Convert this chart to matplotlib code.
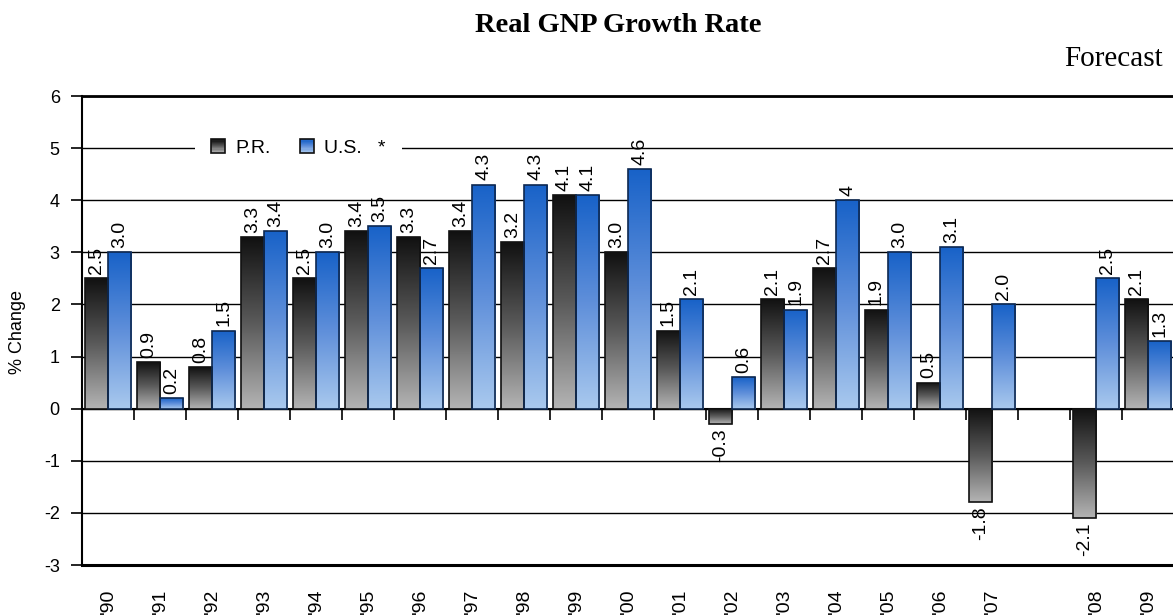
import numpy as np
import matplotlib
matplotlib.use("Agg")
import matplotlib.pyplot as plt
from matplotlib.colors import LinearSegmentedColormap
from matplotlib.legend_handler import HandlerBase
from matplotlib.patches import Patch, Rectangle
from matplotlib.transforms import blended_transform_factory

# --- data -----------------------------------------------------------------
years = ["'90", "'91", "'92", "'93", "'94", "'95", "'96", "'97", "'98", "'99",
         "'00", "'01", "'02", "'03", "'04", "'05", "'06", "'07", "", "'08", "'09"]
pr = [2.5, 0.9, 0.8, 3.3, 2.5, 3.4, 3.3, 3.4, 3.2, 4.1,
      3.0, 1.5, -0.3, 2.1, 2.7, 1.9, 0.5, -1.8, None, -2.1, 2.1]
us = [3.0, 0.2, 1.5, 3.4, 3.0, 3.5, 2.7, 4.3, 4.3, 4.1,
      4.6, 2.1, 0.6, 1.9, 4.0, 3.0, 3.1, 2.0, None, 2.5, 1.3]
pr_labels = ["2.5", "0.9", "0.8", "3.3", "2.5", "3.4", "3.3", "3.4", "3.2", "4.1",
             "3.0", "1.5", "-0.3", "2.1", "2.7", "1.9", "0.5", "-1.8", "", "-2.1", "2.1"]
us_labels = ["3.0", "0.2", "1.5", "3.4", "3.0", "3.5", "2.7", "4.3", "4.3", "4.1",
             "4.6", "2.1", "0.6", "1.9", "4", "3.0", "3.1", "2.0", "", "2.5", "1.3"]

SANS = "Liberation Sans"
SERIF = "Liberation Serif"
plt.rcParams["font.family"] = SANS
plt.rcParams["axes.unicode_minus"] = False

pr_cmap = LinearSegmentedColormap.from_list("pr", ["#b4b4b4", "#5a5a5a", "#111111"])
us_cmap = LinearSegmentedColormap.from_list("us", ["#a9c9ee", "#5f8fda", "#1862c8"])

fig = plt.figure(figsize=(11.73, 6.16), dpi=100)
ax = fig.add_axes([82 / 1173, 1 - 565 / 616, 1092 / 1173, 469 / 616])

x = np.arange(len(years))
w = 0.45


def draw_series(values, labels, offset, cmap, edge):
    idx = [i for i, v in enumerate(values) if v is not None]
    vals = [values[i] for i in idx]
    bars = ax.bar(x[idx] + offset, vals, width=w, facecolor="none",
                  edgecolor=edge, linewidth=1.2, zorder=3)
    grad = np.linspace(0, 1, 256).reshape(-1, 1)
    for bar, v, i in zip(bars, vals, idx):
        bx, by = bar.get_x(), bar.get_y()
        y0, y1 = sorted([by, by + bar.get_height()])
        im = ax.imshow(grad, extent=[bx, bx + bar.get_width(), y0, y1],
                       origin="lower", cmap=cmap, aspect="auto", zorder=2.9)
        im.set_clip_path(bar)
        if v >= 0:
            ax.annotate(labels[i], (bx + bar.get_width() / 2, v), xytext=(0, 3),
                        textcoords="offset points", rotation=90, ha="center",
                        va="bottom", fontsize=14, zorder=4)
        else:
            ax.annotate(labels[i], (bx + bar.get_width() / 2, v), xytext=(0, -3),
                        textcoords="offset points", rotation=90, ha="center",
                        va="top", fontsize=14, zorder=4)


draw_series(pr, pr_labels, -w / 2, pr_cmap, "#111111")
draw_series(us, us_labels, w / 2, us_cmap, "#0d2850")

ax.set_xlim(-0.5, len(years) - 0.5)
ax.set_ylim(-3, 6)
ax.set_yticks(range(-3, 7))
ax.yaxis.grid(True, color="black", linewidth=1)
ax.set_axisbelow(True)
ax.tick_params(axis="y", direction="out", length=8, width=1.2, pad=8, labelsize=13)

# category axis crosses at zero, ticks at category boundaries
ax.spines["bottom"].set_position(("data", 0))
ax.spines["bottom"].set_linewidth(1.5)
ax.set_xticks(np.arange(0.5, len(years) - 1, 1))
ax.tick_params(axis="x", direction="out", length=8, width=1.2, labelbottom=False)
ax.spines["left"].set_linewidth(1.5)
ax.spines["top"].set_linewidth(2)
ax.spines["right"].set_visible(False)
ax.axhline(-3, color="black", linewidth=2.2, clip_on=False, zorder=5)

trans = blended_transform_factory(ax.transData, ax.transAxes)
for i, lab in enumerate(years):
    ax.annotate(lab, (i, 0), xycoords=trans, xytext=(0, -17), textcoords="offset points",
                rotation=90, ha="center", va="top", fontsize=14)


class GradHandler(HandlerBase):
    def __init__(self, cmap):
        super().__init__()
        self.cmap = cmap

    def create_artists(self, legend, orig_handle, xdescent, ydescent,
                       width, height, fontsize, trans):
        n = 12
        arts = []
        for k in range(n):
            r = Rectangle((-xdescent, -ydescent + k * height / n), width, height / n,
                          facecolor=self.cmap(k / (n - 1)), edgecolor="none",
                          transform=trans)
            arts.append(r)
        arts.append(Rectangle((-xdescent, -ydescent), width, height, facecolor="none",
                              edgecolor="#111111", linewidth=1.2, transform=trans))
        return arts


pr_handle = Patch(label="P.R.")
us_handle = Patch(label="U.S.   *")
leg = ax.legend(handles=[pr_handle, us_handle], labels=["P.R.", "U.S.   *"],
                handler_map={pr_handle: GradHandler(pr_cmap), us_handle: GradHandler(us_cmap)},
                loc="center left", bbox_to_anchor=((195 - 82) / 1092, 8 / 9),
                ncol=2, fontsize=14, handlelength=0.72, handleheight=0.72,
                handletextpad=0.55, columnspacing=1.5, borderpad=0.8,
                frameon=True, fancybox=False, framealpha=1, borderaxespad=0)
leg.get_frame().set_edgecolor("white")
leg.get_frame().set_linewidth(0)

fig.text(618 / 1173, 1 - 32 / 616, "Real GNP Growth Rate", ha="center", va="baseline",
         fontsize=20.5, fontweight="bold", family=SERIF)
fig.text(1163 / 1173, 1 - 66 / 616, "Forecast", ha="right", va="baseline",
         fontsize=21, family=SERIF)
fig.text(18 / 1173, 1 - 332 / 616, "% Change", rotation=90, ha="center", va="center",
         fontsize=13)

fig.savefig("out.png", dpi=100)
